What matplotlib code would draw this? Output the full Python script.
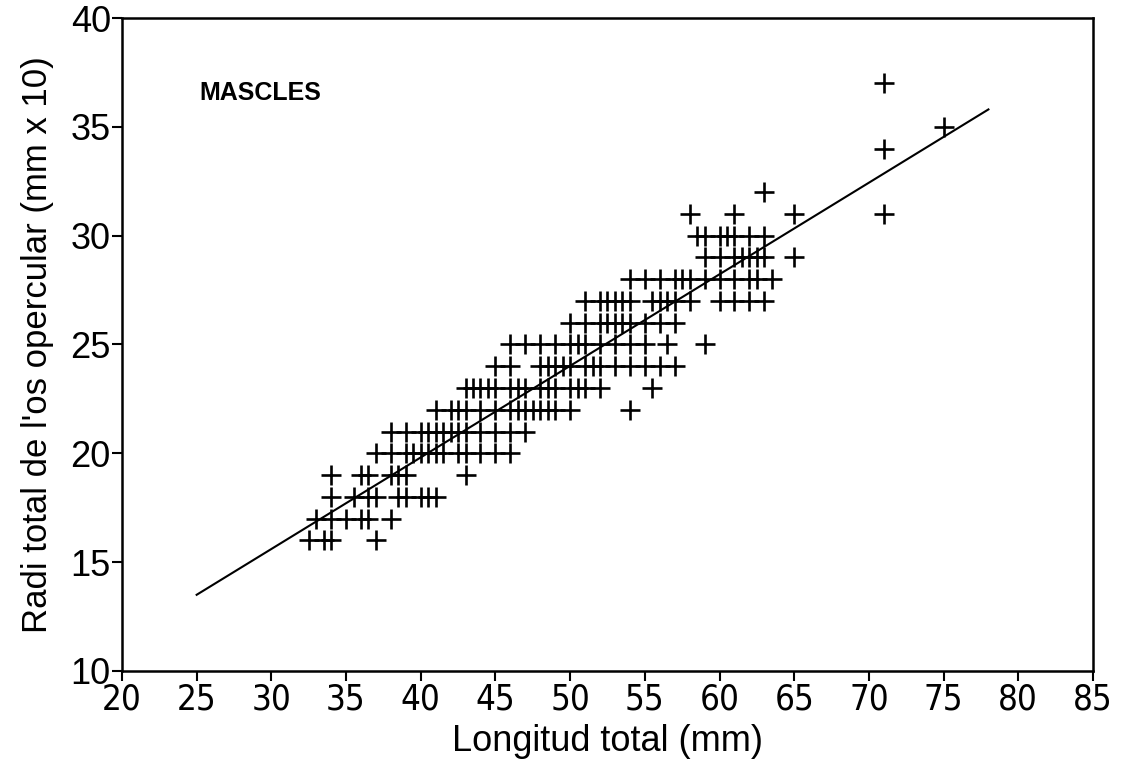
import numpy as np
import matplotlib
matplotlib.use("Agg")
import matplotlib.pyplot as plt
from matplotlib import font_manager

plt.rcParams['font.family'] = ['Liberation Sans', 'DejaVu Sans']

# radi total (mm x 10) levels and the body lengths observed at each level
radi_levels = [16, 17, 18, 19, 20, 21, 22, 23, 24, 25, 26, 27, 28, 29, 30, 31, 32, 34, 35, 37]
longitud_by_level = [
    [32.5, 33.5, 34, 37],
    [33, 34, 35, 36, 36.5, 38],
    [34, 35.5, 36.5, 37, 38.5, 39, 40, 40.5, 41],
    [34, 36, 36.5, 38, 38.5, 39, 43],
    [37, 38, 39, 39.5, 40, 40.5, 41, 41.5, 42.5, 43, 44, 45, 46],
    [38, 39, 40, 40.5, 41, 41.5, 42, 42.5, 43, 44, 45, 46, 47],
    [41, 42, 42.5, 43, 44, 45, 46, 46.5, 47, 47.5, 48, 48.5, 49, 50, 54],
    [43, 43.5, 44, 44.5, 45, 46, 46.5, 47, 48, 48.5, 49, 50, 50.5, 51, 52, 55.5],
    [45, 46, 48, 48.5, 49, 49.5, 50, 51, 51.5, 52, 53, 54, 55, 56, 57],
    [46, 47, 48, 49, 50, 50.5, 51, 52, 53, 54, 55, 56.5, 59],
    [50, 51, 52, 52.5, 53, 53.5, 54, 55, 56, 57],
    [51, 52, 52.5, 53, 53.5, 54, 55.5, 56, 56.5, 57, 58, 60, 61, 62, 63],
    [54, 55, 56, 57, 57.5, 58, 59, 60, 61, 62, 62.5, 63.5],
    [59, 60, 61, 61.5, 62, 62.5, 63, 65],
    [58.5, 59, 60, 60.5, 61, 62, 63],
    [58, 61, 65, 71],
    [63],
    [71],
    [75],
    [71],
]

# fitted regression line (ends)
fit_x = [25, 78]
fit_y = [13.5, 35.8]


def narrow_font():
    # look for a condensed sans face for the x axis numbers
    entries = font_manager.fontManager.ttflist
    for e in entries:
        if e.name == 'Liberation Sans Narrow' and e.style == 'normal' and e.weight in (400, 'normal', 'regular'):
            return font_manager.FontProperties(fname=e.fname)
    for e in entries:
        if e.stretch in ('condensed', 'semi-condensed', 'extra-condensed') and e.style == 'normal' \
                and e.weight in (400, 500, 'normal', 'regular', 'medium') and 'Mono' not in e.name \
                and 'Serif' not in e.name:
            return font_manager.FontProperties(fname=e.fname)
    for e in entries:
        if ('Condensed' in e.name or 'Narrow' in e.name) and 'Mono' not in e.name and 'Serif' not in e.name:
            return font_manager.FontProperties(fname=e.fname)
    return font_manager.FontProperties(family='Liberation Sans')


xs = np.concatenate([np.array(v, dtype=float) for v in longitud_by_level])
ys = np.concatenate([np.full(len(v), r, dtype=float) for r, v in zip(radi_levels, longitud_by_level)])

fig = plt.figure(figsize=(11.24, 7.67), dpi=100)
ax = fig.add_axes([0.1085, 0.1252, 0.8639, 0.8513])

ax.plot(xs, ys, linestyle='none', marker='+', markersize=14, markeredgewidth=1.9, color='black')
ax.plot(fit_x, fit_y, color='black', linewidth=1.5)

ax.set_xlim(20, 85)
ax.set_ylim(10, 40)
ax.set_xticks(np.arange(20, 86, 5))
ax.set_yticks(np.arange(10, 41, 5))

for s in ax.spines.values():
    s.set_linewidth(1.8)
ax.tick_params(direction='out', length=7, width=1.5, pad=1)

fp = narrow_font()
for lab in ax.get_xticklabels():
    lab.set_fontproperties(fp)
    lab.set_fontsize(25)
for lab in ax.get_yticklabels():
    lab.set_fontsize(26)

ax.set_xlabel("Longitud total (mm)", fontsize=26, labelpad=6)
ax.set_ylabel("Radi total de l'os opercular (mm x 10)", fontsize=25, labelpad=12)

ax.text(0.08, 0.875, "MASCLES", transform=ax.transAxes, fontsize=18, fontweight='bold', color='black')

fig.savefig("out.png", dpi=100)
